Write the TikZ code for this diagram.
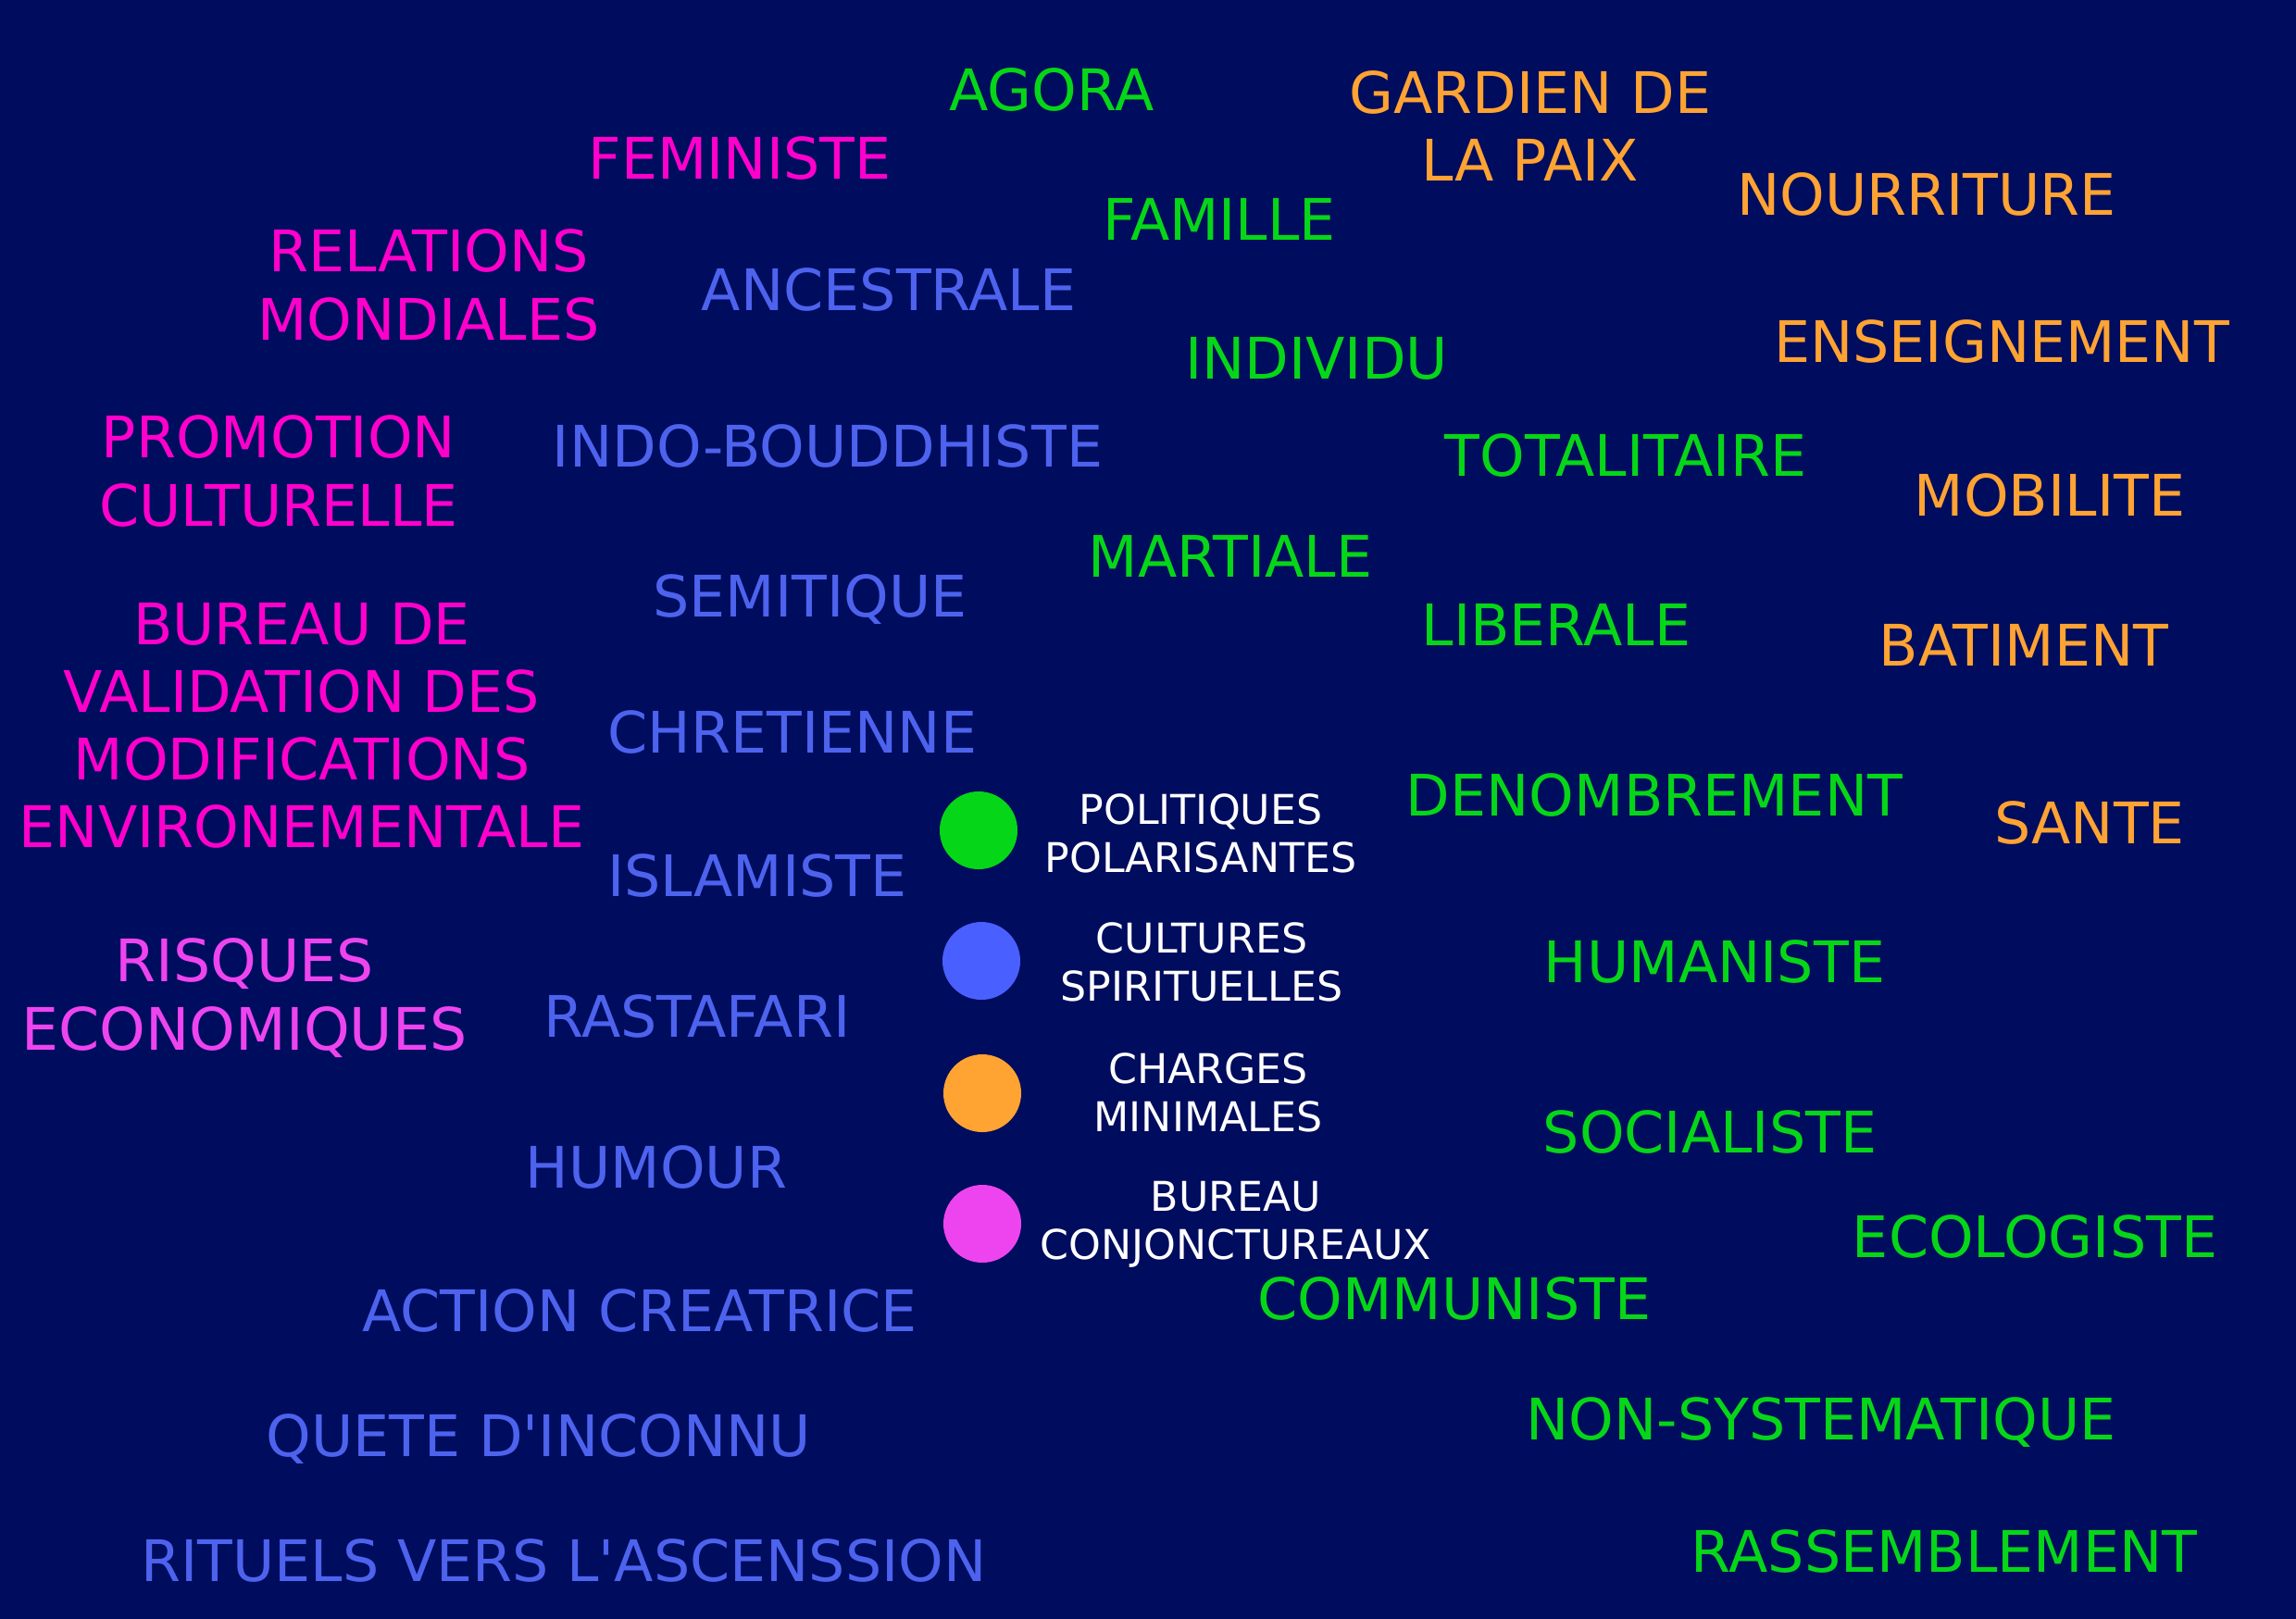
\documentclass[tikz,border=0pt]{standalone}
\usepackage{fontspec}
\setmainfont{DejaVu Sans}
\definecolor{nuit}{HTML}{000C5E}
\definecolor{vert}{HTML}{06D618}
\definecolor{bleu}{HTML}{4D63EE}
\definecolor{bleupuce}{HTML}{4A5FFF}
\definecolor{orange}{HTML}{FFA333}
\definecolor{rose}{HTML}{FF00CC}
\definecolor{rosepale}{HTML}{EE44F0}
\begin{document}
\begin{tikzpicture}[
  lbl/.style={font=\fontsize{17.6}{20.8}\selectfont, align=center, inner sep=0pt},
  polit/.style={lbl, text=vert},
  spirit/.style={lbl, text=bleu},
  charge/.style={lbl, text=orange},
  bureau/.style={lbl, text=rose},
  puce/.style={circle, minimum size=0.84cm, inner sep=0pt},
  leg/.style={font=\fontsize{12.6}{14.8}\selectfont, text=white, align=center, inner sep=0pt}]
  \useasboundingbox (0,0) rectangle (24.8,-17.48);
  \fill[nuit] (-0.2,0.2) rectangle (25,-17.7);
  % politiques polarisantes
  \node[polit] (agora) at (11.36,-0.97) {AGORA};
  \node[polit] (famille) at (13.17,-2.37) {FAMILLE};
  \node[polit] (individu) at (14.22,-3.87) {INDIVIDU};
  \node[polit] (totalitaire) at (17.56,-4.92) {TOTALITAIRE};
  \node[polit] (martiale) at (13.29,-6.01) {MARTIALE};
  \node[polit] (liberale) at (16.81,-6.75) {LIBERALE};
  \node[polit] (denombrement) at (17.87,-8.59) {DENOMBREMENT};
  \node[polit] (humaniste) at (18.52,-10.39) {HUMANISTE};
  \node[polit] (socialiste) at (18.47,-12.23) {SOCIALISTE};
  \node[polit] (ecologiste) at (21.98,-13.36) {ECOLOGISTE};
  \node[polit] (communiste) at (15.71,-14.03) {COMMUNISTE};
  \node[polit] (nonsyst) at (19.67,-15.36) {NON-SYSTEMATIQUE};
  \node[polit] (rassemblement) at (21.00,-16.76) {RASSEMBLEMENT};
  % cultures spirituelles
  \node[spirit] (ancestrale) at (9.60,-3.13) {ANCESTRALE};
  \node[spirit] (indo) at (8.94,-4.82) {INDO-BOUDDHISTE};
  \node[spirit] (semitique) at (8.75,-6.48) {SEMITIQUE};
  \node[spirit] (chretienne) at (8.56,-7.91) {CHRETIENNE};
  \node[spirit] (islamiste) at (8.18,-9.46) {ISLAMISTE};
  \node[spirit] (rastafari) at (7.53,-10.98) {RASTAFARI};
  \node[spirit] (humour) at (7.09,-12.61) {HUMOUR};
  \node[spirit] (action) at (6.91,-14.16) {ACTION CREATRICE};
  \node[spirit] (quete) at (5.82,-15.54) {QUETE D\textquotesingle INCONNU};
  \node[spirit] (rituels) at (6.09,-16.86) {RITUELS VERS L\textquotesingle ASCENSSION};
  % charges minimales
  \node[charge] (gardien) at (16.53,-1.36) {GARDIEN DE\\LA PAIX};
  \node[charge] (nourriture) at (20.81,-2.10) {NOURRITURE};
  \node[charge] (enseignement) at (21.62,-3.69) {ENSEIGNEMENT};
  \node[charge] (mobilite) at (22.14,-5.35) {MOBILITE};
  \node[charge] (batiment) at (21.86,-6.97) {BATIMENT};
  \node[charge] (sante) at (22.57,-8.89) {SANTE};
  % bureau conjonctureaux
  \node[bureau] (feministe) at (7.99,-1.71) {FEMINISTE};
  \node[bureau] (relations) at (4.63,-3.08) {RELATIONS\\MONDIALES};
  \node[bureau] (promotion) at (3.01,-5.09) {PROMOTION\\CULTURELLE};
  \node[bureau] (validation) at (3.26,-7.84) {BUREAU DE\\VALIDATION DES\\MODIFICATIONS\\ENVIRONEMENTALE};
  \node[bureau, text=rosepale, font=\fontsize{18}{21.2}\selectfont] (risques) at (2.64,-10.78) {RISQUES\\ECONOMIQUES};
  % legende
  \node[puce, fill=vert] (p1) at (10.57,-8.97) {};
  \node[puce, fill=bleupuce] (p2) at (10.60,-10.38) {};
  \node[puce, fill=orange] (p3) at (10.61,-11.81) {};
  \node[puce, fill=rosepale] (p4) at (10.61,-13.22) {};
  \node[leg] (l1) at (12.97,-9.00) {POLITIQUES\\POLARISANTES};
  \node[leg] (l2) at (12.98,-10.39) {CULTURES\\SPIRITUELLES};
  \node[leg] (l3) at (13.05,-11.80) {CHARGES\\MINIMALES};
  \node[leg] (l4) at (13.35,-13.23) {BUREAU\\CONJONCTUREAUX};
\end{tikzpicture}
\end{document}
